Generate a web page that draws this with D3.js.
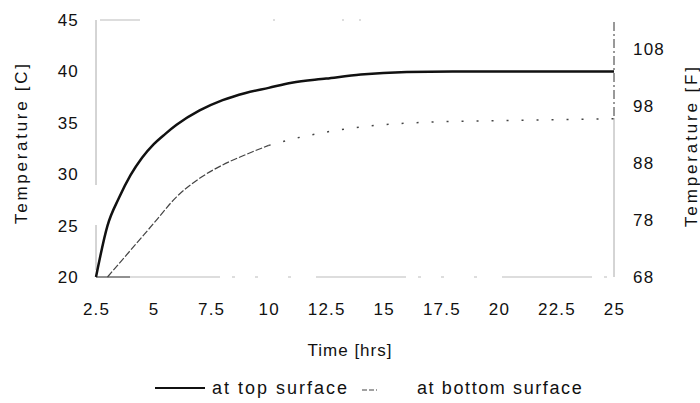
<!DOCTYPE html>
<html>
<head>
<meta charset="utf-8">
<script src="https://cdn.jsdelivr.net/npm/d3@7"></script>
<style>
  body { margin: 0; background: #fff; }
  svg { font-family: "Liberation Sans", Arial, sans-serif; }
</style>
</head>
<body>
<svg id="chart" width="700" height="403"></svg>
<script>
// values
var topHours = [2.5, 3, 3.5, 4, 4.5, 5, 5.5, 6, 7, 8, 9, 10, 11, 12.5, 14, 16, 18, 20, 25];
var topTemp  = [20, 25.0, 27.7, 29.9, 31.6, 32.9, 33.9, 34.8, 36.2, 37.2, 37.9, 38.4, 38.9, 39.3, 39.7, 39.95, 40, 40, 40];
var bottomHours = [3, 4, 5, 6, 7, 8, 9, 10, 11, 12.5, 14, 15.5, 17.5, 20, 22.5, 25];
var bottomTemp  = [20, 22.6, 25.2, 27.8, 29.6, 30.9, 31.9, 32.8, 33.4, 34.1, 34.6, 34.9, 35.1, 35.2, 35.3, 35.4];
var xTicks = [2.5, 5, 7.5, 10, 12.5, 15, 17.5, 20, 22.5, 25];
var yTicksC = [20, 25, 30, 35, 40, 45];
var yTicksF = [68, 78, 88, 98, 108];
var seriesNames = ["at top surface", "at bottom surface"];

var svg = d3.select("#chart");
// plot box (note: "top" is reserved on window, so use prefixed names)
var pL = 96, pR = 614, pT = 20, pB = 277;

var x = d3.scaleLinear().domain([2.5, 25]).range([pL, pR]);
var y = d3.scaleLinear().domain([20, 45]).range([pB, pT]);
var yF = d3.scaleLinear().domain([68, 113]).range([pB, pT]); // 20..45 C in F

// frame, faint and broken like the scan
svg.append("line").attr("x1", pL).attr("x2", pL).attr("y1", pT).attr("y2", pB)
  .attr("stroke", "#aaa").attr("stroke-dasharray", "165,40,45,10");
svg.append("line").attr("x1", pL).attr("x2", pR).attr("y1", pT).attr("y2", pT)
  .attr("stroke", "#bbb").attr("stroke-dasharray", "0,4,40,133,2,67,2,15,2,400");
svg.append("line").attr("x1", pR).attr("x2", pR).attr("y1", pT + 2).attr("y2", 118)
  .attr("stroke", "#333").attr("stroke-dasharray", "9,3,2,3");
svg.append("line").attr("x1", pR).attr("x2", pR).attr("y1", 118).attr("y2", pB)
  .attr("stroke", "#aaa");
svg.append("line").attr("x1", pL).attr("x2", pL + 34).attr("y1", pB).attr("y2", pB)
  .attr("stroke", "#222");
svg.append("line").attr("x1", pL + 34).attr("x2", pR).attr("y1", pB).attr("y2", pB)
  .attr("stroke", "#bbb").attr("stroke-dasharray", "90,12,3,20,3,30,3,25");

// axes (labels only, lines drawn above)
var xAxis = svg.append("g").attr("transform", "translate(0," + pB + ")")
  .call(d3.axisBottom(x).tickValues(xTicks).tickSize(0).tickPadding(26).tickFormat(d3.format("")));
var yAxis = svg.append("g").attr("transform", "translate(" + pL + ",0)")
  .call(d3.axisLeft(y).tickValues(yTicksC).tickSize(0).tickPadding(17));
var yAxisF = svg.append("g").attr("transform", "translate(" + pR + ",0)")
  .call(d3.axisRight(yF).tickValues(yTicksF).tickSize(0).tickPadding(19));

[xAxis, yAxis, yAxisF].forEach(function(g) {
  g.select(".domain").remove();
  g.selectAll("text").attr("font-size", 17).attr("fill", "#111")
    .attr("font-family", "Liberation Sans, Arial, sans-serif").style("letter-spacing", "1.2px");
});

// axis titles
svg.append("text").attr("transform", "translate(27,144) rotate(-90)")
  .attr("text-anchor", "middle").attr("font-size", 17).attr("fill", "#111")
  .attr("textLength", 160).attr("lengthAdjust", "spacing").text("Temperature [C]");
svg.append("text").attr("transform", "translate(697,147) rotate(-90)")
  .attr("text-anchor", "middle").attr("font-size", 17).attr("fill", "#111")
  .attr("textLength", 160).attr("lengthAdjust", "spacing").text("Temperature [F]");
svg.append("text").attr("x", 350).attr("y", 356).attr("text-anchor", "middle")
  .attr("font-size", 17).attr("fill", "#111").style("letter-spacing", "1px").text("Time [hrs]");

// series
var line = d3.line().x(function(d) { return x(d[0]); }).y(function(d) { return y(d[1]); })
  .curve(d3.curveMonotoneX);

var topData = topHours.map(function(h, i) { return [h, topTemp[i]]; });
var bottomData = bottomHours.map(function(h, i) { return [h, bottomTemp[i]]; });

svg.append("path").datum(topData).attr("d", line)
  .attr("fill", "none").attr("stroke", "#111").attr("stroke-width", 2.5);

svg.append("path").datum(bottomData.filter(function(d) { return d[0] <= 10; })).attr("d", line)
  .attr("fill", "none").attr("stroke", "#444").attr("stroke-width", 1.2)
  .attr("stroke-dasharray", "7,2");
svg.append("path").datum(bottomData.filter(function(d) { return d[0] >= 10; })).attr("d", line)
  .attr("fill", "none").attr("stroke", "#444").attr("stroke-width", 1.5)
  .attr("stroke-dasharray", "2,13");

// legend
svg.append("line").attr("x1", 155).attr("x2", 205).attr("y1", 388).attr("y2", 388)
  .attr("stroke", "#111").attr("stroke-width", 2);
svg.append("text").attr("x", 212).attr("y", 394).attr("font-size", 18).attr("fill", "#111")
  .style("letter-spacing", "2px").text(seriesNames[0]);
svg.append("line").attr("x1", 362).attr("x2", 377).attr("y1", 390).attr("y2", 390)
  .attr("stroke", "#444").attr("stroke-width", 1.2).attr("stroke-dasharray", "5,2");
svg.append("text").attr("x", 417).attr("y", 394).attr("font-size", 18).attr("fill", "#111")
  .style("letter-spacing", "1.6px").text(seriesNames[1]);
</script>
</body>
</html>
